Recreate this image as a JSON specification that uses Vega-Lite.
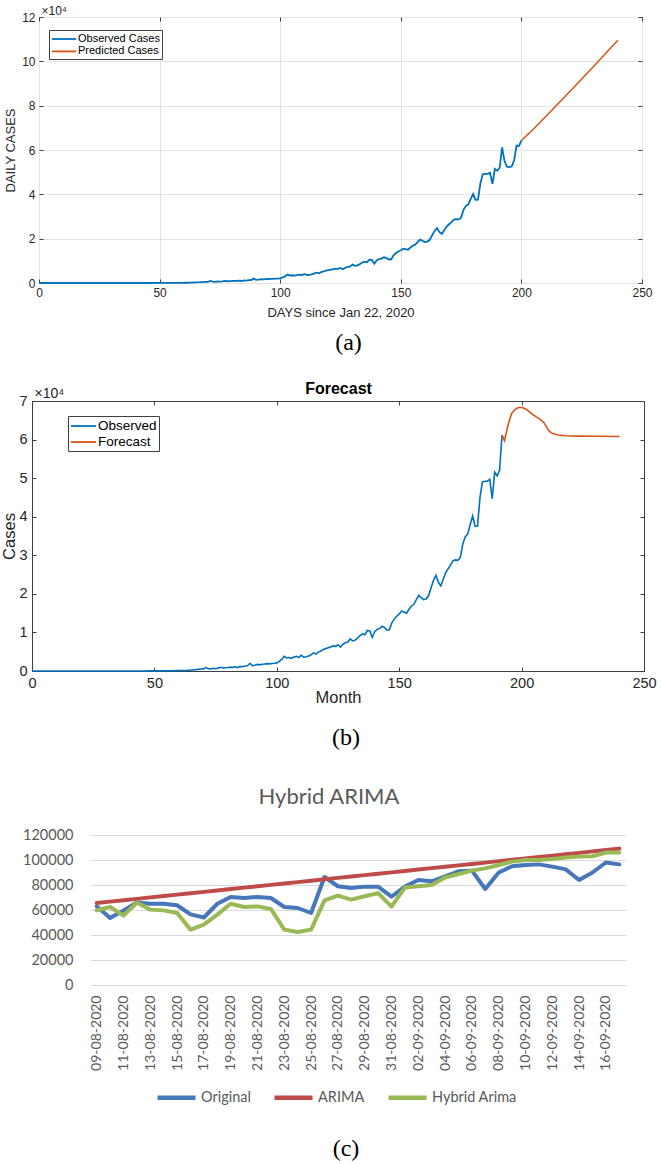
{
  "$schema": "https://vega.github.io/schema/vega-lite/v6.json",
  "background": "white",
  "padding": {"left": 0, "top": 4, "right": 0, "bottom": 0},
  "config": {"view": {"stroke": null}, "font": "Liberation Sans"},
  "resolve": {"scale": {"color": "independent"}, "legend": {"color": "independent"}},
  "datasets": {
    "observed": [
      {"day":0,"cases":0},{"day":10,"cases":0},{"day":20,"cases":0},{"day":30,"cases":0},{"day":40,"cases":5},{"day":45,"cases":10},{"day":50,"cases":20},{"day":53,"cases":40},{"day":56,"cases":70},{"day":59,"cases":100},{"day":61,"cases":120},{"day":63,"cases":140},{"day":65,"cases":250},{"day":67,"cases":350},{"day":69,"cases":500},{"day":70,"cases":550},{"day":71,"cases":900},{"day":72,"cases":600},{"day":73,"cases":550},{"day":74,"cases":700},{"day":75,"cases":600},{"day":76,"cases":750},{"day":77,"cases":950},{"day":78,"cases":800},{"day":79,"cases":850},{"day":80,"cases":900},{"day":81,"cases":1000},{"day":82,"cases":950},{"day":83,"cases":1100},{"day":84,"cases":900},{"day":85,"cases":1200},{"day":86,"cases":1100},{"day":87,"cases":1300},{"day":88,"cases":1350},{"day":89,"cases":2000},{"day":90,"cases":1400},{"day":91,"cases":1500},{"day":92,"cases":1700},{"day":93,"cases":1600},{"day":94,"cases":1750},{"day":95,"cases":1800},{"day":96,"cases":1900},{"day":97,"cases":1850},{"day":98,"cases":1950},{"day":99,"cases":2000},{"day":100,"cases":2100},{"day":101,"cases":2500},{"day":102,"cases":3000},{"day":103,"cases":3800},{"day":104,"cases":3400},{"day":105,"cases":3500},{"day":106,"cases":3300},{"day":107,"cases":3600},{"day":108,"cases":3800},{"day":109,"cases":3500},{"day":110,"cases":4100},{"day":111,"cases":3600},{"day":112,"cases":3700},{"day":113,"cases":3900},{"day":114,"cases":4200},{"day":115,"cases":4700},{"day":116,"cases":4400},{"day":117,"cases":4900},{"day":118,"cases":5200},{"day":119,"cases":5600},{"day":120,"cases":5800},{"day":121,"cases":6000},{"day":122,"cases":6200},{"day":123,"cases":6500},{"day":124,"cases":6400},{"day":125,"cases":6800},{"day":126,"cases":6200},{"day":127,"cases":6900},{"day":128,"cases":7300},{"day":129,"cases":7500},{"day":130,"cases":8300},{"day":131,"cases":7800},{"day":132,"cases":8000},{"day":133,"cases":8500},{"day":134,"cases":9200},{"day":135,"cases":9600},{"day":136,"cases":9400},{"day":137,"cases":10500},{"day":138,"cases":10400},{"day":139,"cases":8700},{"day":140,"cases":10200},{"day":141,"cases":10800},{"day":142,"cases":11000},{"day":143,"cases":11600},{"day":144,"cases":11300},{"day":145,"cases":10600},{"day":146,"cases":10700},{"day":147,"cases":12500},{"day":148,"cases":13500},{"day":149,"cases":14200},{"day":150,"cases":14800},{"day":151,"cases":15500},{"day":152,"cases":15300},{"day":153,"cases":15000},{"day":154,"cases":16000},{"day":155,"cases":16800},{"day":156,"cases":17300},{"day":157,"cases":18500},{"day":158,"cases":19600},{"day":159,"cases":19000},{"day":160,"cases":18500},{"day":161,"cases":18700},{"day":162,"cases":19500},{"day":163,"cases":21500},{"day":164,"cases":23500},{"day":165,"cases":24800},{"day":166,"cases":23000},{"day":167,"cases":22100},{"day":168,"cases":23800},{"day":169,"cases":25500},{"day":170,"cases":26500},{"day":171,"cases":27500},{"day":172,"cases":28600},{"day":173,"cases":28800},{"day":174,"cases":28700},{"day":175,"cases":29500},{"day":176,"cases":33000},{"day":177,"cases":34800},{"day":178,"cases":35500},{"day":179,"cases":38000},{"day":180,"cases":40200},{"day":181,"cases":37500},{"day":182,"cases":37600},{"day":183,"cases":45000},{"day":184,"cases":49000},{"day":185,"cases":49200},{"day":186,"cases":49200},{"day":187,"cases":49700},{"day":188,"cases":44700},{"day":189,"cases":51500},{"day":190,"cases":50600},{"day":191,"cases":52000},{"day":192,"cases":61200},{"day":193,"cases":55000},{"day":194,"cases":52500},{"day":195,"cases":52300},{"day":196,"cases":52600},{"day":197,"cases":55500},{"day":198,"cases":62000},{"day":199,"cases":61800},{"day":200,"cases":64300}
    ],
    "predicted": [
      {"day":200,"cases":64300},{"day":205,"cases":69500},{"day":210,"cases":75000},{"day":215,"cases":80600},{"day":220,"cases":86300},{"day":225,"cases":92000},{"day":230,"cases":97800},{"day":235,"cases":103600},{"day":240,"cases":109500}
    ],
    "forecast": [
      {"day":192,"cases":61200},{"day":193,"cases":59700},{"day":194,"cases":62500},{"day":195,"cases":65000},{"day":196,"cases":66800},{"day":197,"cases":67600},{"day":198,"cases":68100},{"day":199,"cases":68300},{"day":200,"cases":68300},{"day":201,"cases":68100},{"day":202,"cases":67800},{"day":203,"cases":67300},{"day":204,"cases":66800},{"day":205,"cases":66300},{"day":206,"cases":65900},{"day":207,"cases":65500},{"day":208,"cases":65000},{"day":209,"cases":64500},{"day":210,"cases":63500},{"day":211,"cases":62400},{"day":212,"cases":61800},{"day":213,"cases":61500},{"day":215,"cases":61200},{"day":218,"cases":61000},{"day":223,"cases":60900},{"day":230,"cases":60850},{"day":240,"cases":60800}
    ],
    "hybrid": [
      {"date":"09-08-2020","Original":63000,"ARIMA":65600,"Hybrid Arima":59800},
      {"date":"10-08-2020","Original":53600,"ARIMA":66700,"Hybrid Arima":62400},
      {"date":"11-08-2020","Original":59700,"ARIMA":67800,"Hybrid Arima":55500},
      {"date":"12-08-2020","Original":66000,"ARIMA":68900,"Hybrid Arima":66000},
      {"date":"13-08-2020","Original":65000,"ARIMA":70100,"Hybrid Arima":60300},
      {"date":"14-08-2020","Original":65000,"ARIMA":71200,"Hybrid Arima":59700},
      {"date":"15-08-2020","Original":63800,"ARIMA":72300,"Hybrid Arima":57600},
      {"date":"16-08-2020","Original":56500,"ARIMA":73400,"Hybrid Arima":44300},
      {"date":"17-08-2020","Original":54000,"ARIMA":74500,"Hybrid Arima":48300},
      {"date":"18-08-2020","Original":65000,"ARIMA":75600,"Hybrid Arima":56300},
      {"date":"19-08-2020","Original":70400,"ARIMA":76800,"Hybrid Arima":65000},
      {"date":"20-08-2020","Original":69600,"ARIMA":77900,"Hybrid Arima":62400},
      {"date":"21-08-2020","Original":70400,"ARIMA":79000,"Hybrid Arima":62900},
      {"date":"22-08-2020","Original":69600,"ARIMA":80100,"Hybrid Arima":60800},
      {"date":"23-08-2020","Original":62400,"ARIMA":81200,"Hybrid Arima":44300},
      {"date":"24-08-2020","Original":61600,"ARIMA":82300,"Hybrid Arima":42400},
      {"date":"25-08-2020","Original":57600,"ARIMA":83400,"Hybrid Arima":44300},
      {"date":"26-08-2020","Original":86400,"ARIMA":84600,"Hybrid Arima":67700},
      {"date":"27-08-2020","Original":79000,"ARIMA":85700,"Hybrid Arima":71500},
      {"date":"28-08-2020","Original":77600,"ARIMA":86800,"Hybrid Arima":68300},
      {"date":"29-08-2020","Original":78700,"ARIMA":87900,"Hybrid Arima":71000},
      {"date":"30-08-2020","Original":78700,"ARIMA":89000,"Hybrid Arima":73500},
      {"date":"31-08-2020","Original":70700,"ARIMA":90100,"Hybrid Arima":62700},
      {"date":"01-09-2020","Original":78700,"ARIMA":91200,"Hybrid Arima":78000},
      {"date":"02-09-2020","Original":84000,"ARIMA":92400,"Hybrid Arima":79000},
      {"date":"03-09-2020","Original":83000,"ARIMA":93500,"Hybrid Arima":80000},
      {"date":"04-09-2020","Original":87000,"ARIMA":94600,"Hybrid Arima":86000},
      {"date":"05-09-2020","Original":91000,"ARIMA":95700,"Hybrid Arima":88800},
      {"date":"06-09-2020","Original":91500,"ARIMA":96800,"Hybrid Arima":91500},
      {"date":"07-09-2020","Original":76800,"ARIMA":97900,"Hybrid Arima":93300},
      {"date":"08-09-2020","Original":90000,"ARIMA":99100,"Hybrid Arima":96000},
      {"date":"09-09-2020","Original":95000,"ARIMA":100200,"Hybrid Arima":98700},
      {"date":"10-09-2020","Original":96000,"ARIMA":101300,"Hybrid Arima":100000},
      {"date":"11-09-2020","Original":96500,"ARIMA":102400,"Hybrid Arima":100000},
      {"date":"12-09-2020","Original":94700,"ARIMA":103500,"Hybrid Arima":100800},
      {"date":"13-09-2020","Original":92500,"ARIMA":104600,"Hybrid Arima":102000},
      {"date":"14-09-2020","Original":84000,"ARIMA":105700,"Hybrid Arima":102700},
      {"date":"15-09-2020","Original":90000,"ARIMA":106900,"Hybrid Arima":103000},
      {"date":"16-09-2020","Original":98000,"ARIMA":108000,"Hybrid Arima":106000},
      {"date":"17-09-2020","Original":96500,"ARIMA":109100,"Hybrid Arima":106000}
    ],
    "blank": [{"t": ""}]
  },
  "spacing": 0,
  "vconcat": [
    {
      "spacing": 0,
      "hconcat": [
        {"width": 4, "height": 362, "data": {"name": "blank"}, "mark": "text", "encoding": {"text": {"field": "t", "type": "nominal"}}},
        {
          "width": 603, "height": 266,
          "view": {"stroke": "#404040", "strokeWidth": 1},
          "title": {"text": "(a)", "orient": "bottom", "anchor": "middle", "frame": "group", "font": "Liberation Serif", "fontSize": 24, "fontWeight": "normal", "color": "#000000", "offset": 12, "dx": 8},
          "resolve": {"axis": {"x": "independent", "y": "independent"}},
          "layer": [
            {
              "data": {"name": "observed"},
              "mark": {"type": "line", "strokeWidth": 1.8},
              "encoding": {
                "x": {"field": "day", "type": "quantitative", "scale": {"domain": [0, 250], "nice": false},
                  "axis": {"values": [0, 50, 100, 150, 200, 250], "grid": true, "gridColor": "#e3e3e3", "domain": false, "tickSize": -4, "tickColor": "#404040", "labelFlush": false, "labelFontSize": 12, "labelColor": "#262626", "labelPadding": 8, "title": "DAYS since Jan 22, 2020", "titleFontSize": 13, "titleFontWeight": "normal", "titleColor": "#262626", "titleY": 33, "titleBaseline": "alphabetic"}},
                "y": {"field": "cases", "type": "quantitative", "scale": {"domain": [0, 120000], "nice": false},
                  "axis": {"values": [0, 20000, 40000, 60000, 80000, 100000, 120000], "labelExpr": "datum.value / 10000", "grid": true, "gridColor": "#e3e3e3", "domain": false, "tickSize": -4, "tickColor": "#404040", "labelFlush": false, "labelFontSize": 12, "labelColor": "#262626", "labelPadding": 8, "title": "DAILY CASES", "titleFontSize": 13, "titleFontWeight": "normal", "titleColor": "#262626", "titleAngle": 270, "titleX": -28.5, "titleY": 133, "titleAlign": "center", "titleBaseline": "middle"}},
                "color": {"datum": "Observed Cases", "type": "nominal", "scale": {"domain": ["Observed Cases", "Predicted Cases"], "range": ["#0072BD", "#D95319"]},
                  "legend": {"orient": "none", "legendX": 49, "legendY": 13, "title": null, "symbolType": "M-1,0H3", "symbolSize": 144, "symbolStrokeWidth": 1.8, "labelFontSize": 11, "labelColor": "#000000", "labelOffset": 13, "rowPadding": 0.4, "padding": 2, "strokeColor": "#404040", "fillColor": "white", "labelLimit": 0}}
              }
            },
            {
              "data": {"name": "predicted"},
              "mark": {"type": "line", "strokeWidth": 1.5},
              "encoding": {
                "x": {"field": "day", "type": "quantitative",
                  "axis": {"orient": "top", "values": [0, 50, 100, 150, 200, 250], "labels": false, "grid": false, "domain": false, "tickSize": -4, "tickColor": "#404040", "title": null}},
                "y": {"field": "cases", "type": "quantitative",
                  "axis": {"orient": "right", "values": [0, 20000, 40000, 60000, 80000, 100000, 120000], "labels": false, "grid": false, "domain": false, "tickSize": -4, "tickColor": "#404040", "title": "×10⁴", "titleAngle": 0, "titleX": -601, "titleY": -2.5, "titleAlign": "left", "titleBaseline": "alphabetic", "titleFontSize": 12, "titleFontWeight": "normal", "titleColor": "#262626"}},
                "color": {"datum": "Predicted Cases", "type": "nominal", "scale": {"domain": ["Observed Cases", "Predicted Cases"], "range": ["#0072BD", "#D95319"]},
                  "legend": {"orient": "none", "legendX": 49, "legendY": 13, "title": null, "symbolType": "M-1,0H3", "symbolSize": 144, "symbolStrokeWidth": 1.8, "labelFontSize": 11, "labelColor": "#000000", "labelOffset": 13, "rowPadding": 0.4, "padding": 2, "strokeColor": "#404040", "fillColor": "white", "labelLimit": 0}}
              }
            }
          ]
        }
      ]
    },
    {
      "spacing": 0,
      "hconcat": [
        {"width": 1, "height": 384, "data": {"name": "blank"}, "mark": "text", "encoding": {"text": {"field": "t", "type": "nominal"}}},
        {
          "width": 612, "height": 270,
          "view": {"stroke": "#404040", "strokeWidth": 1},
          "title": {"text": "(b)", "orient": "bottom", "anchor": "middle", "frame": "group", "font": "Liberation Serif", "fontSize": 24, "fontWeight": "normal", "color": "#000000", "offset": 20, "dx": 8},
          "resolve": {"axis": {"x": "independent", "y": "independent"}},
          "layer": [
            {
              "data": {"name": "observed"},
              "transform": [{"filter": "datum.day <= 192"}],
              "mark": {"type": "line", "strokeWidth": 1.6},
              "encoding": {
                "x": {"field": "day", "type": "quantitative", "scale": {"domain": [0, 250], "nice": false},
                  "axis": {"values": [0, 50, 100, 150, 200, 250], "grid": false, "domain": false, "tickSize": -4, "tickColor": "#404040", "labelFlush": false, "labelFontSize": 14.5, "labelColor": "#262626", "labelPadding": 9, "title": "Month", "titleFontSize": 16.5, "titleFontWeight": "normal", "titleColor": "#262626", "titleY": 31, "titleBaseline": "alphabetic"}},
                "y": {"field": "cases", "type": "quantitative", "scale": {"domain": [0, 70000], "nice": false},
                  "axis": {"values": [0, 10000, 20000, 30000, 40000, 50000, 60000, 70000], "labelExpr": "datum.value / 10000", "grid": false, "domain": false, "tickSize": -4, "tickColor": "#404040", "labelFlush": false, "labelFontSize": 14.5, "labelColor": "#262626", "labelPadding": 9, "title": "Cases", "titleFontSize": 16.5, "titleFontWeight": "normal", "titleColor": "#262626", "titleAngle": 270, "titleX": -22.5, "titleY": 135, "titleAlign": "center", "titleBaseline": "middle"}},
                "color": {"datum": "Observed", "type": "nominal", "scale": {"domain": ["Observed", "Forecast"], "range": ["#0072BD", "#D95319"]},
                  "legend": {"orient": "none", "legendX": 68, "legendY": 15, "title": null, "symbolType": "M-1,0H2.57", "symbolSize": 196, "symbolStrokeWidth": 1.8, "labelFontSize": 13.5, "labelColor": "#000000", "labelOffset": 12, "rowPadding": 1, "padding": 2, "strokeColor": "#404040", "fillColor": "white", "labelLimit": 0}}
              }
            },
            {
              "data": {"name": "forecast"},
              "mark": {"type": "line", "strokeWidth": 1.6},
              "encoding": {
                "x": {"field": "day", "type": "quantitative",
                  "axis": {"orient": "top", "values": [0, 50, 100, 150, 200, 250], "labels": false, "grid": false, "domain": false, "tickSize": -4, "tickColor": "#404040", "title": "Forecast", "titleX": 306, "titleY": -8, "titleAlign": "center", "titleBaseline": "alphabetic", "titleFontSize": 16, "titleFontWeight": "bold", "titleColor": "#000000"}},
                "y": {"field": "cases", "type": "quantitative",
                  "axis": {"orient": "right", "values": [0, 10000, 20000, 30000, 40000, 50000, 60000, 70000], "labels": false, "grid": false, "domain": false, "tickSize": -4, "tickColor": "#404040", "title": "×10⁴", "titleAngle": 0, "titleX": -610, "titleY": -4, "titleAlign": "left", "titleBaseline": "alphabetic", "titleFontSize": 14, "titleFontWeight": "normal", "titleColor": "#262626"}},
                "color": {"datum": "Forecast", "type": "nominal", "scale": {"domain": ["Observed", "Forecast"], "range": ["#0072BD", "#D95319"]},
                  "legend": {"orient": "none", "legendX": 68, "legendY": 15, "title": null, "symbolType": "M-1,0H2.57", "symbolSize": 196, "symbolStrokeWidth": 1.8, "labelFontSize": 13.5, "labelColor": "#000000", "labelOffset": 12, "rowPadding": 1, "padding": 2, "strokeColor": "#404040", "fillColor": "white", "labelLimit": 0}}
              }
            }
          ]
        }
      ]
    },
    {
      "spacing": 0,
      "hconcat": [
        {"width": 22, "height": 10, "data": {"name": "blank"}, "mark": "text", "encoding": {"text": {"field": "t", "type": "nominal"}}},
        {
          "width": 536, "height": 150,
          "data": {"name": "hybrid"},
          "transform": [{"fold": ["Original", "ARIMA", "Hybrid Arima"], "as": ["series", "value"]}],
          "title": {"text": "(c)", "orient": "bottom", "anchor": "middle", "frame": "group", "font": "Liberation Serif", "fontSize": 24, "fontWeight": "normal", "color": "#000000", "offset": 67, "dx": -12},
          "resolve": {"axis": {"x": "independent"}},
          "layer": [
            {
              "mark": {"type": "line", "strokeWidth": 4, "strokeJoin": "round", "strokeCap": "round"},
              "encoding": {
                "x": {"field": "date", "type": "ordinal", "sort": null, "scale": {"type": "point", "padding": 0.5},
                  "axis": {"values": ["09-08-2020","11-08-2020","13-08-2020","15-08-2020","17-08-2020","19-08-2020","21-08-2020","23-08-2020","25-08-2020","27-08-2020","29-08-2020","31-08-2020","02-09-2020","04-09-2020","06-09-2020","08-09-2020","10-09-2020","12-09-2020","14-09-2020","16-09-2020"], "labelAngle": 270, "labelFont": "Lato", "labelFontSize": 14, "labelColor": "#595959", "labelPadding": 10, "ticks": false, "domain": false, "grid": false, "title": null}},
                "y": {"field": "value", "type": "quantitative", "scale": {"domain": [0, 120000], "nice": false},
                  "axis": {"values": [0, 20000, 40000, 60000, 80000, 100000, 120000], "format": "d", "grid": true, "gridColor": "#d9d9d9", "gridWidth": 1.2, "domain": false, "ticks": false, "labelFont": "Lato", "labelFontSize": 14.5, "labelColor": "#595959", "labelPadding": 17, "title": null}},
                "color": {"field": "series", "type": "nominal", "scale": {"domain": ["Original", "ARIMA", "Hybrid Arima"], "range": ["#4677BA", "#BE4B48", "#98B954"]},
                  "legend": {"orient": "none", "legendX": 155, "legendY": 241, "direction": "horizontal", "title": null, "symbolType": "stroke", "symbolSize": 1444, "symbolStrokeWidth": 4.5, "labelFont": "Lato", "labelFontSize": 14.5, "labelColor": "#595959", "labelOffset": 3, "columnPadding": 14, "padding": 0, "labelLimit": 0}}
              }
            },
            {
              "mark": {"type": "line", "opacity": 0},
              "encoding": {
                "x": {"field": "date", "type": "ordinal", "sort": null,
                  "axis": {"orient": "top", "labels": false, "ticks": false, "domain": false, "grid": false, "title": "Hybrid ARIMA", "titleX": 238.5, "titleY": -32, "titleAlign": "center", "titleBaseline": "alphabetic", "titleFont": "Lato", "titleFontSize": 22, "titleFontWeight": "normal", "titleColor": "#595959"}},
                "y": {"field": "value", "type": "quantitative",
                  "axis": {"values": [0, 20000, 40000, 60000, 80000, 100000, 120000], "format": "d", "grid": true, "gridColor": "#d9d9d9", "gridWidth": 1.2, "domain": false, "ticks": false, "labelFont": "Lato", "labelFontSize": 14.5, "labelColor": "#595959", "labelPadding": 17, "title": null}}
              }
            }
          ]
        }
      ]
    }
  ]
}
